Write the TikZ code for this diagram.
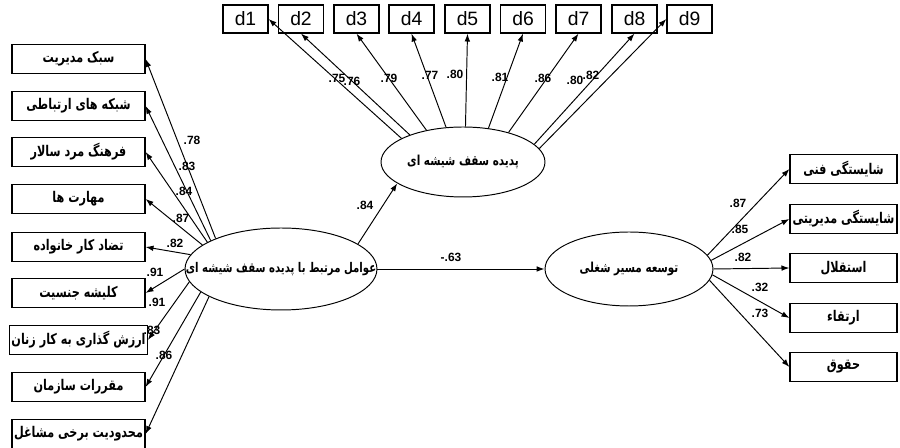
\documentclass[tikz,border=0pt]{standalone}
\usepackage{fontspec}
\setmainfont{Liberation Sans}
\newfontfamily\arabicfont[Script=Arabic,FakeStretch=0.76]{DejaVu Sans}
\TeXXeTstate=1
\usetikzlibrary{arrows.meta,shapes.geometric}
\newcommand\fafont{\arabicfont\bfseries}

\begin{document}
\begin{tikzpicture}[
  x=0.02cm,
  y=-0.02cm,
  indicator/.style={
    draw,
    line width=0.7pt,
    minimum width=2.66cm,
    minimum height=0.58cm,
    inner sep=1pt,
    font=\fontsize{8.4}{9}\fafont
  },
  residual/.style={
    draw,
    line width=0.7pt,
    minimum width=0.9cm,
    minimum height=0.56cm,
    inner sep=1pt,
    font=\fontsize{11}{13}\selectfont
  },
  latent/.style={
    ellipse,
    draw,
    line width=0.55pt,
    inner sep=0pt
  },
  loading/.style={
    -{Latex[length=4.5pt,width=3.2pt]},
    line width=0.55pt
  },
  coef/.style={
    inner sep=0pt,
    font=\fontsize{6.8}{8}\bfseries\selectfont
  }
]
  \useasboundingbox (0,0) rectangle (900,448);

  % latent variables
  \node[latent, minimum width=3.84cm, minimum height=1.64cm,
    label={[font=\fontsize{7.6}{8}\fafont]center:{\beginR عوامل مرتبط با پدیده سقف شیشه ای\endR}}]
    (factors) at (281,269) {};
  \node[latent, minimum width=3.28cm, minimum height=1.4cm,
    label={[font=\fontsize{7.8}{8}\fafont]center:{\beginR پدیده سقف شیشه ای\endR}}]
    (ceiling) at (463,162) {};
  \node[latent, minimum width=3.36cm, minimum height=1.48cm,
    label={[font=\fontsize{7.8}{8}\fafont]center:{\beginR توسعه مسیر شغلی\endR}}]
    (career) at (629,269) {};

  % left indicators
  \foreach \n/\y/\txt/\ang/\val/\lx/\ly in {
      1/59/{\beginR سبک مدیریت\endR}/155.8/.78/192/140,
      2/106/{\beginR شبکه های ارتباطی\endR}/158.3/.83/187/166,
      3/152/{\beginR فرهنگ مرد سالار\endR}/160.7/.84/184/191,
      4/199/{\beginR مهارت ها\endR}/163.5/.87/181/218,
      5/247/{\beginR تضاد کار خانواده\endR}/171/.82/175/243,
      6/293/{\beginR کلیشه جنسیت\endR}/180/.91/155/272,
      7/340/{\beginR ارزش گذاری به کار زنان\endR}/188.7/.91/157/302,
      8/387/{\beginR مقررات سازمان\endR}/196/.83/152/330,
      9/434/{\beginR محدودیت برخی مشاغل\endR}/201/.86/164/355} {
    \node[indicator] (ind\n) at (78.5,\y) {\txt};
    \draw[loading] (factors.\ang) -- (ind\n.east);
    \node[coef] (lab\n) at (\lx,\ly) {\val};
  }

  % residual boxes
  \foreach \n/\x/\ang/\tip/\val/\lx/\ly in {
      1/245.5/159.7/east/.75/337/78,
      2/301/153.4/south/.76/352/81,
      3/356.5/139.6/south/.79/389/78,
      4/411.5/116/south/.77/430/75,
      5/467.5/86/south/.80/455/74,
      6/523/53.4/south/.81/500/77,
      7/578.5/33/south/.86/543/78,
      8/634.5/14.8/south/.80/575/80,
      9/689.5/10.3/west/.82/591/75} {
    \node[residual] (d\n) at (\x,19) {d\n};
    \draw[loading] (ceiling.\ang) -- (d\n.\tip);
    \node[coef] (dlab\n) at (\lx,\ly) {\val};
  }

  % right indicators
  \foreach \n/\y/\txt/\ang/\val/\lx/\ly in {
      1/169/{\beginR شایستگی فنی\endR}/10/.87/738/203,
      2/219/{\beginR شایستگی مدیریتی\endR}/6/.85/740/229,
      3/268/{\beginR استقلال\endR}/0/.82/743/257,
      4/318/{\beginR ارتقاء\endR}/-4/.32/760/287,
      5/367/{\beginR حقوق\endR}/-8/.73/760/313} {
    \node[indicator, minimum width=2.14cm] (out\n) at (843.5,\y) {\txt};
    \draw[loading] (career.\ang) -- (out\n.west);
    \node[coef] (olab\n) at (\lx,\ly) {\val};
  }

  % structural paths
  \draw[loading] (factors.18) -- (ceiling.198)
    node[coef] (pathlab1) at (365,205) {.84};
  \draw[loading] (factors) -- (career)
    node[coef] (pathlab2) at (451,257) {-.63};
\end{tikzpicture}
\end{document}
